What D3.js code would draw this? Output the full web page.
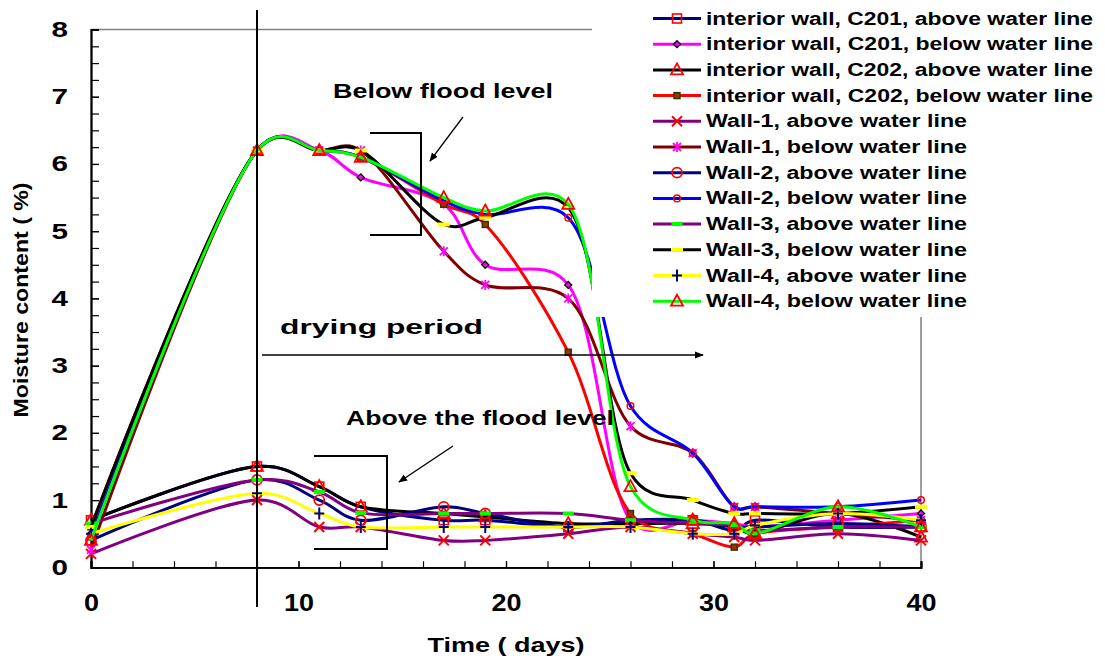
<!DOCTYPE html>
<html><head><meta charset="utf-8">
<script src="https://cdn.jsdelivr.net/npm/d3@7"></script>
<style>
body{margin:0;background:#fff;}
svg{display:block;font-family:Arial,"Liberation Sans",sans-serif;font-weight:bold;}
</style></head>
<body><svg id="chart" width="1105" height="660"></svg>
<script>
// ---- data ----
const days = [0, 8, 11, 13, 17, 19, 23, 26, 29, 31, 32, 36, 40];
const seriesNames = [
  "interior wall, C201, above water line",
  "interior wall, C201, below water line",
  "interior wall, C202, above water line",
  "interior wall, C202, below water line",
  "Wall-1, above water line",
  "Wall-1, below water line",
  "Wall-2, above water line",
  "Wall-2, below water line",
  "Wall-3, above water line",
  "Wall-3, below water line",
  "Wall-4, above water line",
  "Wall-4, below water line"
];
const c201Above  = [0.7, 1.5, 1.2, 0.9, 0.7, 0.7, 0.6, 0.65, 0.7, 0.55, 0.7, 0.6, 0.6];
const c201Below  = [0.5, 6.2, 6.2, 5.8, 5.4, 4.5, 4.2, 0.7, 0.7, 0.65, 0.6, 0.7, 0.8];
const c202Above  = [0.7, 1.5, 1.2, 0.9, 0.8, 0.75, 0.65, 0.65, 0.65, 0.6, 0.5, 0.8, 0.45];
const c202Below  = [0.6, 6.2, 6.2, 6.1, 5.4, 5.1, 3.2, 0.8, 0.5, 0.3, 0.5, 0.6, 0.7];
const wall1Above = [0.2, 1.0, 0.6, 0.6, 0.4, 0.4, 0.5, 0.6, 0.5, 0.45, 0.4, 0.5, 0.4];
const wall1Below = [0.26, 6.2, 6.2, 6.2, 4.7, 4.2, 4.0, 2.1, 1.7, 0.9, 0.9, 0.8, 0.7];
const wall2Above = [0.4, 1.3, 1.0, 0.7, 0.9, 0.8, 0.6, 0.7, 0.7, 0.6, 0.6, 0.65, 0.6];
const wall2Below = [0.45, 6.2, 6.2, 6.1, 5.45, 5.25, 5.2, 2.4, 1.7, 0.9, 0.9, 0.9, 1.0];
const wall3Above = [0.65, 1.3, 1.12, 0.81, 0.8, 0.8, 0.8, 0.7, 0.65, 0.62, 0.55, 0.6, 0.6];
const wall3Below = [0.6, 6.2, 6.2, 6.2, 5.1, 5.2, 5.35, 1.4, 1.0, 0.8, 0.8, 0.8, 0.9];
const wall4Above = [0.5, 1.1, 0.8, 0.6, 0.6, 0.6, 0.6, 0.6, 0.5, 0.5, 0.62, 0.8, 0.7];
const wall4Below = [0.4, 6.2, 6.2, 6.1, 5.5, 5.3, 5.4, 1.2, 0.7, 0.65, 0.5, 0.9, 0.6];
const seriesValues = [c201Above, c201Below, c202Above, c202Below, wall1Above, wall1Below,
  wall2Above, wall2Below, wall3Above, wall3Below, wall4Above, wall4Below];
const xMajorTicks = [0, 10, 20, 30, 40];
const yMajorTicks = [0, 1, 2, 3, 4, 5, 6, 7, 8];

// ---- styles ----
const lineColors = ["#000080", "#FF00FF", "#000000", "#FF0000", "#800080", "#800000",
  "#000080", "#0000FF", "#800080", "#000000", "#FFFF00", "#00FF00"];
const markerTypes = ["square", "diamond", "triangle", "smallsquare", "x", "asterisk",
  "circle", "smallcircle", "greendash", "yellowdash", "plus", "triangle"];

const svg = d3.select("#chart");
const x = d3.scaleLinear().domain([0, 40]).range([91, 921]);
const y = d3.scaleLinear().domain([0, 8]).range([567.3, 29.5]);

// frame (top/right gray)
svg.append("line").attr("x1", x(0)).attr("x2", x(40)).attr("y1", y(8)).attr("y2", y(8))
  .attr("stroke", "#808080").attr("stroke-width", 1.5);
svg.append("line").attr("x1", x(40)).attr("x2", x(40)).attr("y1", y(8)).attr("y2", y(0))
  .attr("stroke", "#808080").attr("stroke-width", 1.5);

// axes
const yMinor = d3.axisLeft(y).tickValues(d3.range(0, 8.01, 0.25)).tickSize(-8).tickFormat("");
const yAxis = d3.axisLeft(y).tickValues(yMajorTicks).tickSize(-8).tickPadding(23).tickFormat(d3.format("d"));
const xMinor = d3.axisBottom(x).tickValues(d3.range(0, 40.01, 2)).tickSize(-6).tickFormat("");
const xAxis = d3.axisBottom(x).tickValues(xMajorTicks).tickSize(-6).tickPadding(27).tickFormat(d3.format("d"));

function styleAxis(g, fs, perChar) {
  g.select(".domain").attr("stroke", "#000").attr("stroke-width", 1.8);
  g.selectAll(".tick line").attr("stroke", "#000").attr("stroke-width", 1.2);
  g.selectAll("text").attr("font-size", fs).attr("font-weight", "bold")
    .attr("font-family", "Arial, 'Liberation Sans', sans-serif").attr("fill", "#000")
    .each(function () {
      const t = d3.select(this);
      if (perChar) t.attr("textLength", perChar * t.text().length).attr("lengthAdjust", "spacingAndGlyphs");
    });
}
svg.append("g").attr("transform", `translate(${x(0)},0)`).call(yMinor).call(styleAxis, 22);
svg.append("g").attr("transform", `translate(${x(0)},0)`).call(yAxis).call(styleAxis, 22, 16.5);
svg.append("g").attr("transform", `translate(0,${y(0)})`).call(xMinor).call(styleAxis, 24);
svg.append("g").attr("transform", `translate(0,${y(0)})`).call(xAxis).call(styleAxis, 24, 15);

// axis titles
svg.append("text").attr("x", 506).attr("y", 652).attr("text-anchor", "middle")
  .attr("font-size", 21).attr("textLength", 157).attr("lengthAdjust", "spacingAndGlyphs").text("Time ( days)");
svg.append("text").attr("transform", "translate(28,300) rotate(-90)").attr("text-anchor", "middle")
  .attr("font-size", 21).attr("textLength", 235).attr("lengthAdjust", "spacingAndGlyphs").text("Moisture content ( %)");

// marker drawing
function drawMarker(g, type, cx, cy) {
  const m = g.append("g").attr("transform", `translate(${cx},${cy})`);
  switch (type) {
    case "square":
      m.append("rect").attr("x", -4.5).attr("y", -4.5).attr("width", 9).attr("height", 9)
        .attr("fill", "none").attr("stroke", "#FF0000").attr("stroke-width", 1.6); break;
    case "diamond":
      m.append("path").attr("d", "M0,-3.5L3.5,0L0,3.5L-3.5,0Z")
        .attr("fill", "#FF00FF").attr("stroke", "#000").attr("stroke-width", 1.3); break;
    case "triangle":
      m.append("path").attr("d", "M0,-6.5L6,4.5L-6,4.5Z")
        .attr("fill", "none").attr("stroke", "#FF0000").attr("stroke-width", 1.8); break;
    case "smallsquare":
      m.append("rect").attr("x", -3).attr("y", -3).attr("width", 6).attr("height", 6)
        .attr("fill", "#993300").attr("stroke", "#333300").attr("stroke-width", 1.4); break;
    case "x":
      m.append("path").attr("d", "M-5,-5L5,5M-5,5L5,-5")
        .attr("stroke", "#FF0000").attr("stroke-width", 2); break;
    case "asterisk":
      m.append("path").attr("d", "M-4,-4L4,4M-4,4L4,-4M0,-5L0,5")
        .attr("stroke", "#FF00FF").attr("stroke-width", 1.8); break;
    case "circle":
      m.append("circle").attr("r", 5).attr("fill", "none")
        .attr("stroke", "#FF0000").attr("stroke-width", 1.8); break;
    case "smallcircle":
      m.append("circle").attr("r", 3.3).attr("fill", "none")
        .attr("stroke", "#FF0000").attr("stroke-width", 1.5); break;
    case "greendash":
      m.append("rect").attr("x", -5.5).attr("y", -2).attr("width", 11).attr("height", 4)
        .attr("fill", "#00FF00"); break;
    case "yellowdash":
      m.append("rect").attr("x", -6).attr("y", -2).attr("width", 12).attr("height", 4)
        .attr("fill", "#FFFF00"); break;
    case "plus":
      m.append("path").attr("d", "M-5,0L5,0M0,-6L0,6")
        .attr("stroke", "#000080").attr("stroke-width", 2); break;
  }
}

// series
const line = d3.line().x(d => x(d[0])).y(d => y(d[1])).curve(d3.curveCatmullRom.alpha(0.25));
const plot = svg.append("g");
seriesValues.forEach((vals, i) => {
  const pts = days.map((d, k) => [d, vals[k]]);
  plot.append("path").datum(pts).attr("d", line).attr("fill", "none")
    .attr("stroke", lineColors[i]).attr("stroke-width", 3).attr("stroke-linejoin", "round");
  pts.forEach(p => drawMarker(plot, markerTypes[i], x(p[0]), y(p[1])));
});

// vertical line at day 8
svg.append("line").attr("x1", x(8)).attr("x2", x(8)).attr("y1", 10).attr("y2", 607)
  .attr("stroke", "#000").attr("stroke-width", 2);

// annotations
svg.append("defs").append("marker").attr("id", "ah").attr("viewBox", "0 0 10 10")
  .attr("refX", 9).attr("refY", 5).attr("markerWidth", 9).attr("markerHeight", 9)
  .attr("markerUnits", "userSpaceOnUse").attr("orient", "auto")
  .append("path").attr("d", "M0,1L10,5L0,9Z").attr("fill", "#000");

const ann = svg.append("g");
ann.append("text").attr("x", 333).attr("y", 98).attr("font-size", 21)
  .attr("textLength", 220).attr("lengthAdjust", "spacingAndGlyphs").text("Below flood level");
ann.append("path").attr("d", "M370,133H421V235H370").attr("fill", "none")
  .attr("stroke", "#000").attr("stroke-width", 2);
ann.append("line").attr("x1", 463).attr("y1", 117).attr("x2", 430).attr("y2", 161)
  .attr("stroke", "#000").attr("stroke-width", 1.3).attr("marker-end", "url(#ah)");

ann.append("text").attr("x", 280).attr("y", 334).attr("font-size", 21)
  .attr("textLength", 203).attr("lengthAdjust", "spacingAndGlyphs").text("drying period");
ann.append("line").attr("x1", 262).attr("y1", 355).attr("x2", 703).attr("y2", 355)
  .attr("stroke", "#000").attr("stroke-width", 1.3).attr("marker-end", "url(#ah)");

ann.append("text").attr("x", 346).attr("y", 425).attr("font-size", 21)
  .attr("textLength", 268).attr("lengthAdjust", "spacingAndGlyphs").text("Above the flood level");
ann.append("path").attr("d", "M314,456H387V549H314").attr("fill", "none")
  .attr("stroke", "#000").attr("stroke-width", 2);
ann.append("line").attr("x1", 453).attr("y1", 446).attr("x2", 399).attr("y2", 482)
  .attr("stroke", "#000").attr("stroke-width", 1.3).attr("marker-end", "url(#ah)");

// legend
const lg = svg.append("g");
lg.append("rect").attr("x", 592).attr("y", 0).attr("width", 513).attr("height", 317).attr("fill", "#fff");
seriesNames.forEach((name, i) => {
  const cy = 18.5 + i * 25.7;
  lg.append("line").attr("x1", 653).attr("x2", 701).attr("y1", cy).attr("y2", cy)
    .attr("stroke", lineColors[i]).attr("stroke-width", 3);
  drawMarker(lg, markerTypes[i], 677, cy);
  const longName = name.startsWith("interior");
  lg.append("text").attr("x", 706).attr("y", cy + 6).attr("font-size", 17.5)
    .attr("textLength", longName ? 387 : 261).attr("lengthAdjust", "spacingAndGlyphs").text(name);
});
</script></body></html>
